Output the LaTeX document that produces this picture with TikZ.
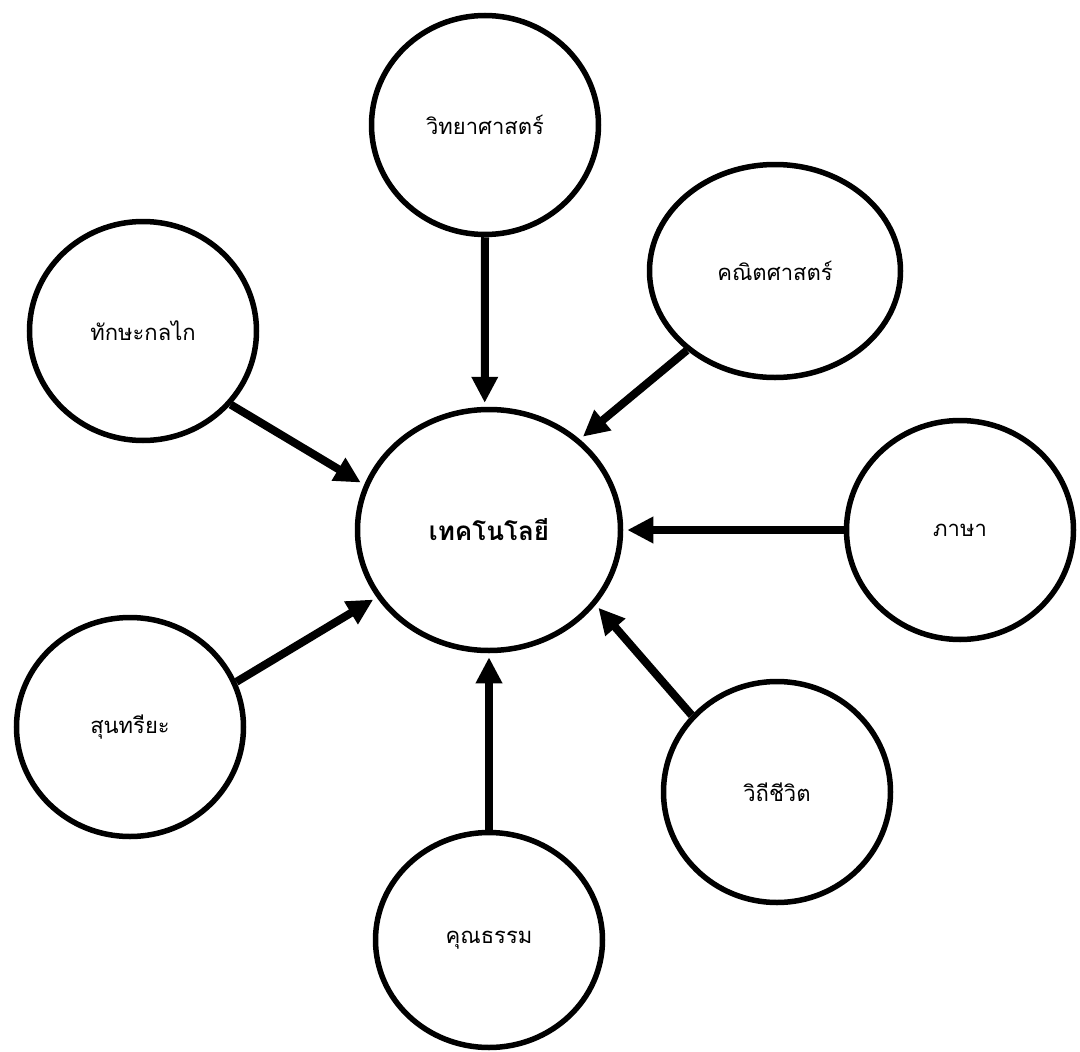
\documentclass[tikz,border=0pt]{standalone}
\usepackage{fontspec}
\newfontfamily\thaifont[Script=Thai]{Loma}
\usetikzlibrary{shapes.geometric}
\usetikzlibrary{arrows.meta}

\begin{document}
\begin{tikzpicture}[x=1pt,y=-1pt]
    \def\lw{5.5pt}
    \def\aw{8pt}
    \tikzset{topic/.style={ellipse,draw,line width=\lw,inner sep=0pt,
                    minimum width=227pt,minimum height=219pt,
                    font=\thaifont\fontsize{22}{26}\selectfont},
             feed/.style={line width=\aw,shorten >=4pt,
                    -{Triangle[length=26pt,width=25pt]}}}
    \useasboundingbox (0,0) rectangle (1080,1052);
    \node[topic,minimum width=263pt,minimum height=241pt,
          font=\thaifont\bfseries\fontsize{26}{30}\selectfont] (tech) at (489,530) {เทคโนโลยี};
    \node[topic] (vit) at (485,125) {วิทยาศาสตร์};
    \node[topic,minimum width=251pt,minimum height=213pt] (khanit) at (775,271) {คณิตศาสตร์};
    \node[topic] (thaksa) at (143,331) {ทักษะกลไก};
    \node[topic] (phasa) at (960,530) {ภาษา};
    \node[topic] (sun) at (130,727) {สุนทรียะ};
    \node[topic,minimum height=221pt] (withi) at (777,792) {วิถีชีวิต};
    \node[topic,minimum height=215pt] (khun) at (489,940) {คุณธรรม};
    \foreach \from/\a/\b in {vit/270/92,khanit/222/45,thaksa/-40/160,phasa/180/0,
                             sun/23/211,withi/138/-35,khun/90/270}
        \draw[feed] (\from.\a) -- (tech.\b);
\end{tikzpicture}
\end{document}
